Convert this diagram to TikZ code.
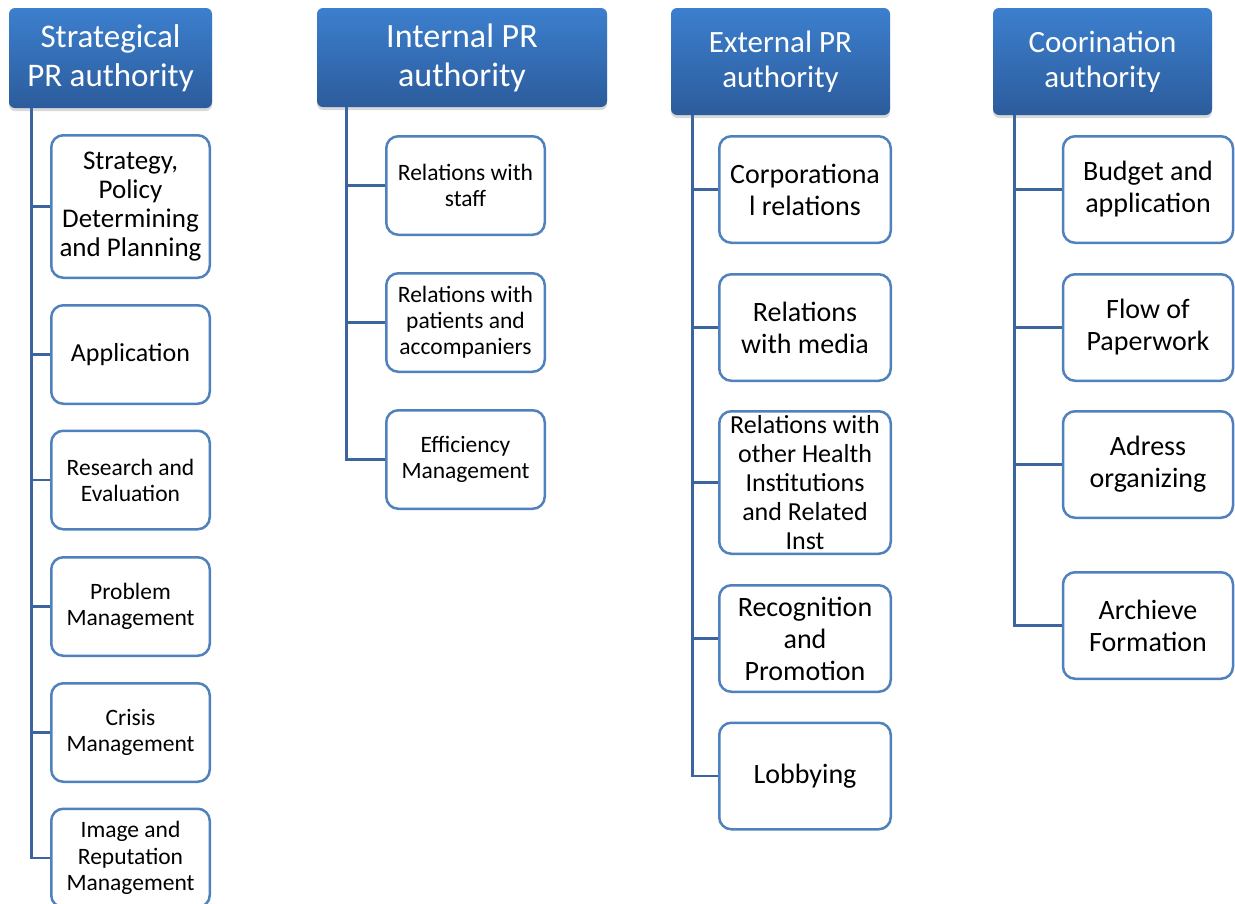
\documentclass[tikz,border=0pt]{standalone}
\usepackage{fontspec}
\setmainfont{Carlito}
\usetikzlibrary{shadows}
\definecolor{hdtop}{RGB}{60,127,206}
\definecolor{hdbot}{RGB}{44,92,156}
\definecolor{leafc}{RGB}{79,129,189}
\definecolor{connc}{RGB}{60,101,160}
\tikzset{
  head/.style={rounded corners=6pt, top color=hdtop, bottom color=hdbot, draw=none, text=white, align=center, inner sep=0pt,
    drop shadow={opacity=0.3, shadow xshift=0pt, shadow yshift=-3pt}},
  leaf/.style={draw=leafc, line width=2.5pt, rounded corners=12pt, fill=white, align=center, inner sep=0pt, text=black},
  conn/.style={draw=connc, line width=2.8pt},
  fA/.style={font=\fontsize{33}{39}\selectfont},
  fB/.style={font=\fontsize{31}{35}\selectfont},
  big/.style={font=\fontsize{27}{29}\selectfont},
  mid/.style={font=\fontsize{28}{32}\selectfont},
  sml/.style={font=\fontsize{23.5}{26}\selectfont},
}
\begin{document}
\begin{tikzpicture}[x=1pt,y=1pt]
\useasboundingbox (0,0) rectangle (1235,-903);
% column 1
\node[head,fA,minimum width=203pt,minimum height=100pt] (h1) at (110.5,-58) {Strategical\\PR authority};
\node[leaf,big,minimum width=158.5pt,minimum height=142.5pt] (c11) at (130.5,-206.5) {Strategy,\\Policy\\Determining\\and Planning};
\node[leaf,font=\fontsize{26}{29}\selectfont,minimum width=158.5pt,minimum height=98.5pt] (c12) at (130.5,-354.5) {Application};
\node[leaf,sml,minimum width=158.5pt,minimum height=98.5pt] (c13) at (130.5,-480) {Research and\\Evaluation};
\node[leaf,sml,minimum width=158.5pt,minimum height=98.5pt] (c14) at (130.5,-606.5) {Problem\\Management};
\node[leaf,sml,minimum width=158.5pt,minimum height=98.5pt] (c15) at (130.5,-732.5) {Crisis\\Management};
\node[leaf,font=\fontsize{23.5}{26.5}\selectfont,minimum width=158.5pt,minimum height=98.5pt] (c16) at (130.5,-858) {Image and\\Reputation\\Management};
\foreach \c in {c11,c12,c13,c14,c15,c16}{
  \draw[conn] ([xshift=23pt]h1.south west) |- (\c.west);
}
% column 2
\node[head,font=\fontsize{34}{39}\selectfont,minimum width=290pt,minimum height=99pt] (h2) at (462,-57.5) {Internal PR\\authority};
\node[leaf,sml,minimum width=158.5pt,minimum height=98.5pt] (c21) at (465.5,-185.5) {Relations with\\staff};
\node[leaf,sml,minimum width=158.5pt,minimum height=98.5pt] (c22) at (465.5,-322.5) {Relations with\\patients and\\accompaniers};
\node[leaf,sml,minimum width=158.5pt,minimum height=98.5pt] (c23) at (465.5,-459.5) {Efficiency\\Management};
\foreach \c in {c21,c22,c23}{
  \draw[conn] ([xshift=30pt]h2.south west) |- (\c.west);
}
% column 3
\node[head,fB,minimum width=219pt,minimum height=107pt] (h3) at (780.5,-61.5) {External PR\\authority};
\node[leaf,mid,minimum width=171.5pt,minimum height=106.5pt] (c31) at (805,-189.5) {Corporationa\\l relations};
\node[leaf,mid,minimum width=171.5pt,minimum height=106.5pt] (c32) at (805,-327.5) {Relations\\with media};
\node[leaf,font=\fontsize{26}{29}\selectfont,minimum width=171.5pt,minimum height=142.5pt] (c33) at (805,-482.5) {Relations with\\other Health\\Institutions\\and Related\\Inst};
\node[leaf,mid,minimum width=171.5pt,minimum height=106.5pt] (c34) at (805,-638.5) {Recognition\\and\\Promotion};
\node[leaf,mid,minimum width=171.5pt,minimum height=106.5pt] (c35) at (805,-776) {Lobbying};
\foreach \c in {c31,c32,c33,c34,c35}{
  \draw[conn] ([xshift=22pt]h3.south west) |- (\c.west);
}
% column 4
\node[head,fB,minimum width=219pt,minimum height=107pt] (h4) at (1102.5,-61.5) {Coorination\\authority};
\node[leaf,mid,minimum width=170pt,minimum height=106.5pt] (c41) at (1148,-189.5) {Budget and\\application};
\node[leaf,mid,minimum width=170pt,minimum height=106.5pt] (c42) at (1148,-327.5) {Flow of\\Paperwork};
\node[leaf,mid,minimum width=170pt,minimum height=106.5pt] (c43) at (1148,-464.5) {Adress\\organizing};
\node[leaf,mid,minimum width=170pt,minimum height=106.5pt] (c44) at (1148,-625.5) {Archieve\\Formation};
\foreach \c in {c41,c42,c43,c44}{
  \draw[conn] ([xshift=22pt]h4.south west) |- (\c.west);
}
\end{tikzpicture}
\end{document}
